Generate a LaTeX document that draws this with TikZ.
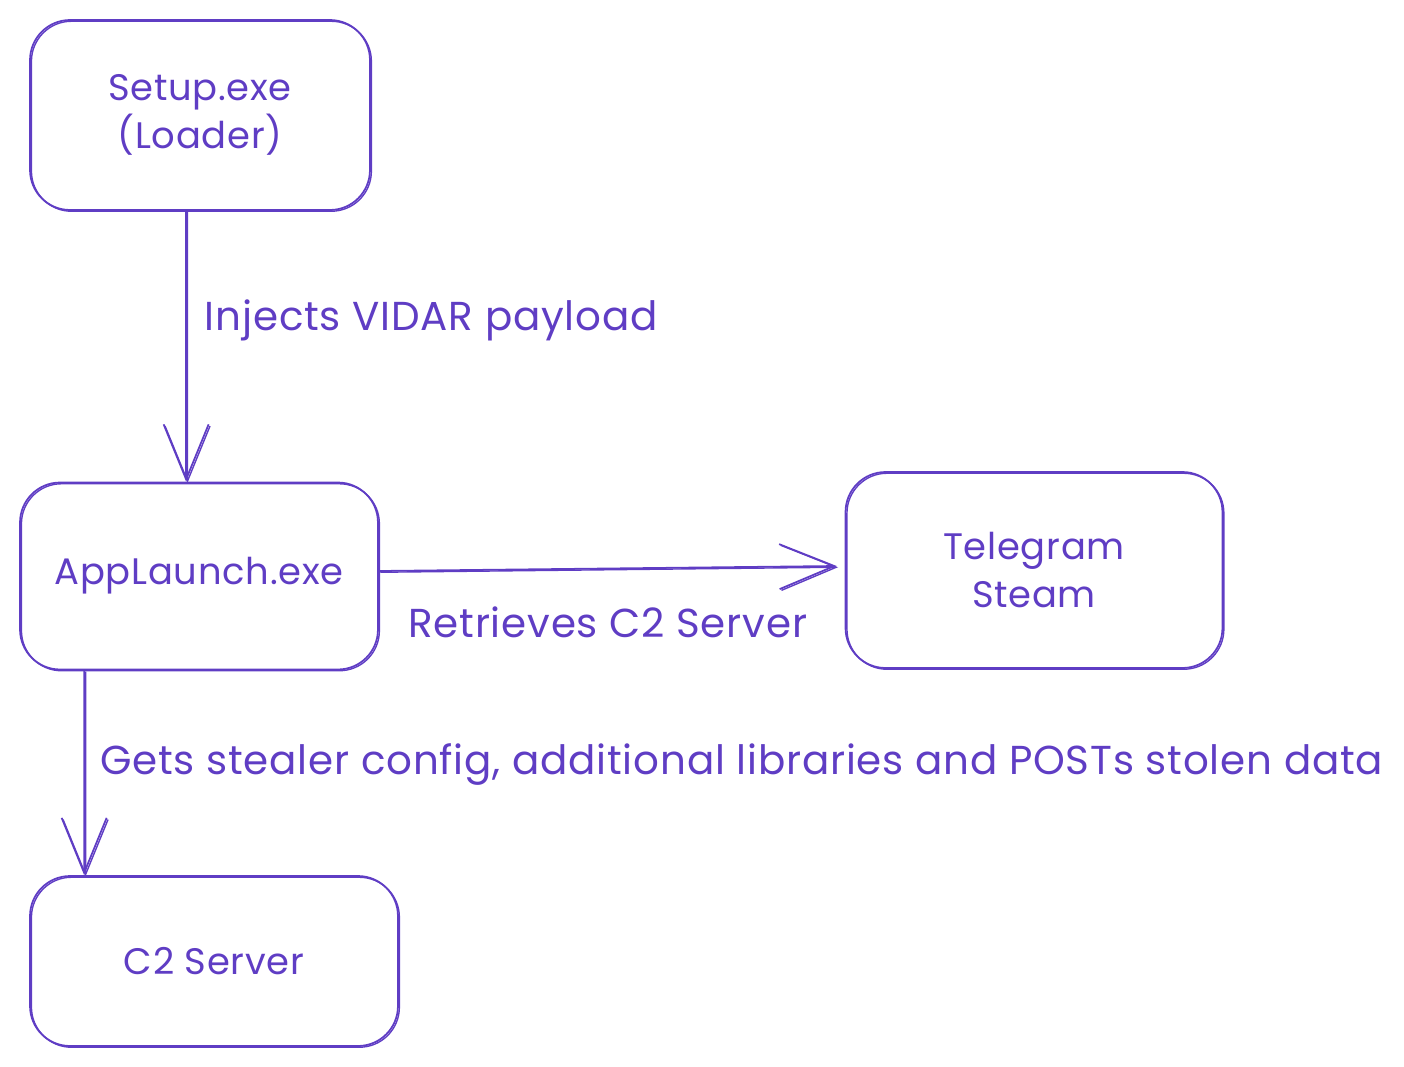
\documentclass[tikz,border=0pt]{standalone}
\usepackage{fontspec}
\setmainfont[LetterSpace=2]{Poppins}
\usetikzlibrary{arrows.meta}
\definecolor{inkviolet}{HTML}{5F3DC4}
\tikzset{>={Straight Barb[length=1.1cm,width=0.9cm]},
  sketch/.style={draw=inkviolet,line width=1pt,
    postaction={draw=inkviolet,line width=0.8pt,transform canvas={xshift=0.8pt,yshift=-0.7pt}}},
  box/.style={sketch,rounded corners=0.8cm,text=inkviolet,align=center,inner sep=0pt,
    font=\fontsize{21}{27}\selectfont},
  lbl/.style={text=inkviolet,inner sep=0pt,font=\fontsize{23}{27}\selectfont}}

\begin{document}
\begin{tikzpicture}[x=0.02cm,y=-0.02cm]
    \useasboundingbox (0,0) rectangle (1404,1066);
    \node[box,minimum width=6.8cm,minimum height=3.8cm] (setup) at (200,115) {Setup.exe\\(Loader)};
    \node[box,minimum width=7.16cm,minimum height=3.74cm] (app) at (199,576) {AppLaunch.exe};
    \node[box,minimum width=7.54cm,minimum height=3.92cm] (tele) at (1034,570) {Telegram\\Steam};
    \node[box,minimum width=7.36cm,minimum height=3.4cm] (c2) at (214,961) {C2 Server};
    % connectors
    \draw[sketch,->] ([xshift=3.14cm]setup.south west) -- ([xshift=3.34cm]app.north west)
      node[lbl,pos=0.443,anchor=base west,xshift=0.36cm] {Injects VIDAR payload};
    \draw[sketch,->] ([yshift=0.1cm]app.east) -- ([shift={(-0.16cm,0.08cm)}]tele.west)
      node[lbl,pos=0.5,anchor=base,yshift=-1.38cm] {Retrieves C2 Server};
    \draw[sketch,->] ([xshift=1.3cm]app.south west) -- ([xshift=1.1cm]c2.north west)
      node[lbl,pos=0.51,anchor=base west,xshift=0.3cm] {Gets stealer config, additional libraries and POSTs stolen data};
\end{tikzpicture}
\end{document}
